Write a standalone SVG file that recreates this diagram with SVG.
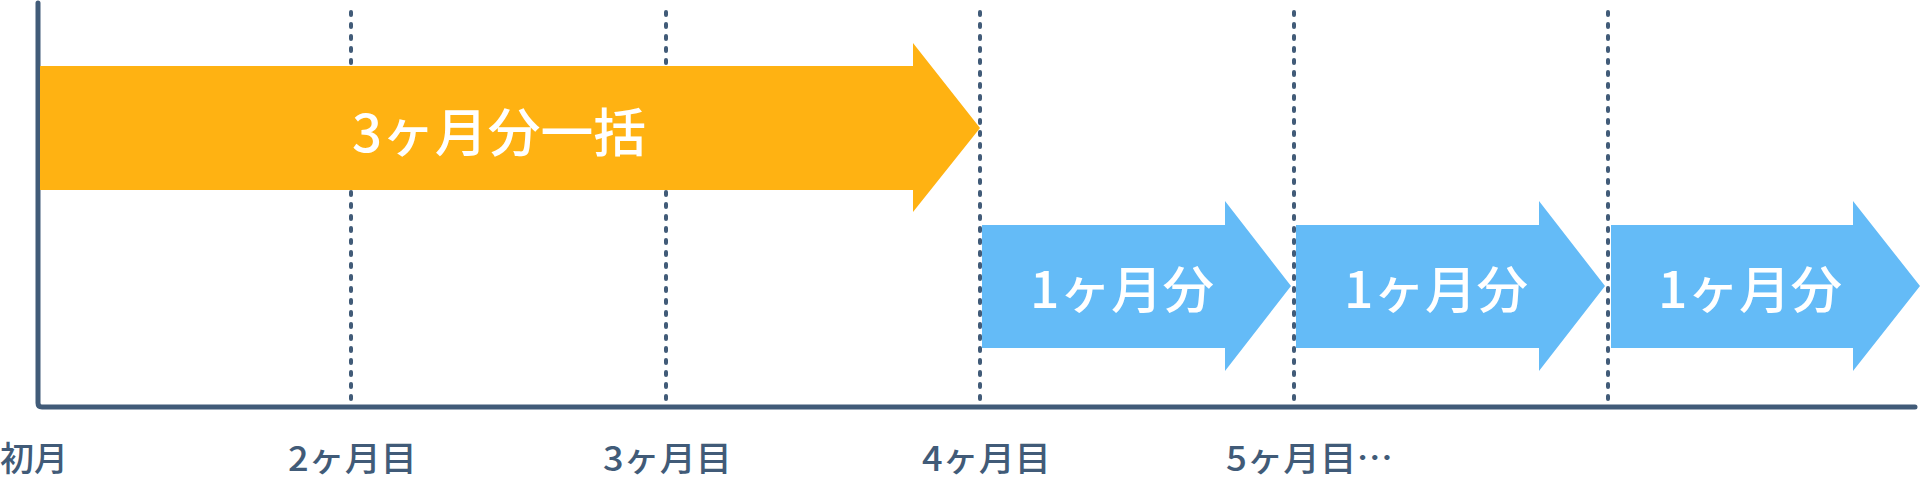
<svg xmlns="http://www.w3.org/2000/svg" width="1920" height="486" viewBox="0 0 1920 486">
<style>
.ax{stroke:#415b78;stroke-width:5;fill:none;stroke-linecap:round;stroke-linejoin:round}
.dot{stroke:#415b78;stroke-width:4;stroke-dasharray:3 9;stroke-linecap:round;fill:none}
.lbl{font-family:"Noto Sans CJK JP","Noto Sans",sans-serif;font-weight:500;font-size:34px;fill:#415b78}
.w{font-family:"Noto Sans CJK JP","Noto Sans",sans-serif;font-weight:500;fill:#fff;text-anchor:middle}
</style>
<g id="connectors">
<path class="ax" d="M38 3 V403 Q38 407 42 407 H1915"/>
<path class="dot" d="M351 12 V404"/>
<path class="dot" d="M666 12 V404"/>
<path class="dot" d="M980 12 V404"/>
<path class="dot" d="M1294 12 V404"/>
<path class="dot" d="M1608 12 V404"/>
</g>
<g id="orange">
<polygon fill="#ffb212" points="40,66 913,66 913,43 980,128 913,212 913,190 40,190"/>
<text class="w" x="499" y="152" font-size="52" textLength="294" lengthAdjust="spacingAndGlyphs">3ヶ月分一括</text>
</g>
<g id="blue1">
<polygon fill="#64bbf7" points="982,225 1225,225 1225,201 1291,286 1225,371 1225,348 982,348"/>
<text class="w" x="1122" y="308" font-size="50" textLength="184" lengthAdjust="spacingAndGlyphs">1ヶ月分</text>
</g>
<g id="blue2">
<polygon fill="#64bbf7" points="1296,225 1539,225 1539,201 1605,286 1539,371 1539,348 1296,348"/>
<text class="w" x="1436" y="308" font-size="50" textLength="184" lengthAdjust="spacingAndGlyphs">1ヶ月分</text>
</g>
<g id="blue3">
<polygon fill="#64bbf7" points="1611,225 1853,225 1853,201 1920,286 1853,371 1853,348 1611,348"/>
<text class="w" x="1750" y="308" font-size="50" textLength="184" lengthAdjust="spacingAndGlyphs">1ヶ月分</text>
</g>
<g id="labels">
<text class="lbl" x="0" y="471" textLength="68" lengthAdjust="spacingAndGlyphs">初月</text>
<text class="lbl" x="288" y="471" textLength="129" lengthAdjust="spacingAndGlyphs">2ヶ月目</text>
<text class="lbl" x="603" y="471" textLength="129" lengthAdjust="spacingAndGlyphs">3ヶ月目</text>
<text class="lbl" x="922" y="471" textLength="129" lengthAdjust="spacingAndGlyphs">4ヶ月目</text>
<text class="lbl" x="1226" y="471" textLength="167" lengthAdjust="spacingAndGlyphs">5ヶ月目…</text>
</g>
</svg>
